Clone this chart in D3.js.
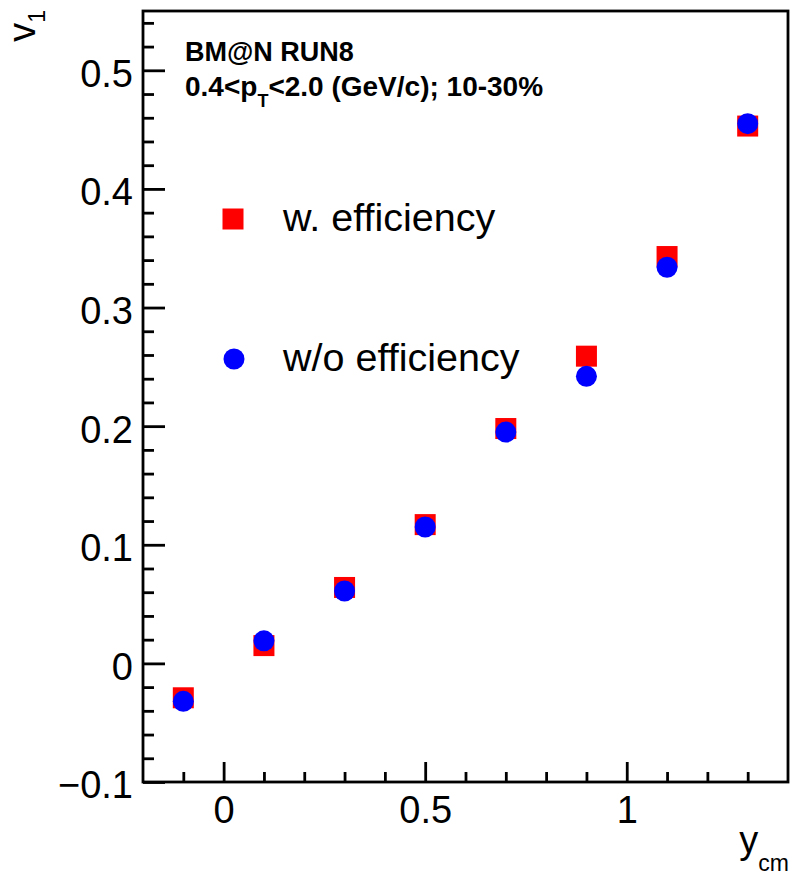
<!DOCTYPE html>
<html>
<head>
<meta charset="utf-8">
<script src="https://cdn.jsdelivr.net/npm/d3@7"></script>
<style>
  body { margin: 0; background: #fff; }
  svg { display: block; }
  text { font-family: "Liberation Sans", Arial, Helvetica, sans-serif; fill: #000; }
</style>
</head>
<body>
<svg id="chart" width="792" height="877"></svg>
<script>
// Directed flow v1 versus rapidity, with and without efficiency correction
const rapidity = [-0.1, 0.1, 0.3, 0.5, 0.7, 0.9, 1.1, 1.3];
const v1WithEff = [-0.029, 0.015, 0.064, 0.117, 0.198, 0.259, 0.343, 0.453];
const v1WithoutEff = [-0.032, 0.019, 0.061, 0.115, 0.195, 0.242, 0.334, 0.455];

const xTickValues = [0, 0.5, 1];
const xTickLabels = ["0", "0.5", "1"];
const xMinorValues = [-0.1, 0.1, 0.2, 0.3, 0.4, 0.6, 0.7, 0.8, 0.9, 1.1, 1.2, 1.3];
const yTickValues = [-0.1, 0, 0.1, 0.2, 0.3, 0.4, 0.5];
const yTickLabels = ["\u22120.1", "0", "0.1", "0.2", "0.3", "0.4", "0.5"];
const yMinorValues = [-0.08, -0.06, -0.04, -0.02, 0.02, 0.04, 0.06, 0.08,
  0.12, 0.14, 0.16, 0.18, 0.22, 0.24, 0.26, 0.28, 0.32, 0.34, 0.36, 0.38,
  0.42, 0.44, 0.46, 0.48, 0.52, 0.54];

const seriesNames = ["w. efficiency", "w/o efficiency"];
const seriesColors = ["#ff0000", "#0000ff"];

const svg = d3.select("#chart");
svg.append("rect").attr("width", 792).attr("height", 877).attr("fill", "#fff");

const frame = { left: 143, right: 788, top: 11, bottom: 782 };
const x = d3.scaleLinear().domain([-0.2, 1.4]).range([frame.left, frame.right]);
const y = d3.scaleLinear().domain([-0.1, 0.55]).range([frame.bottom, frame.top]);

const lw = 2.8;
const labelFont = 38;

// x axis: major ticks with labels, minor ticks without
svg.append("g").attr("transform", `translate(0,${frame.bottom})`)
  .call(d3.axisBottom(x).tickValues(xTickValues)
    .tickFormat((d, i) => xTickLabels[i]).tickSize(-20).tickSizeOuter(0).tickPadding(14));
svg.append("g").attr("transform", `translate(0,${frame.bottom})`)
  .call(d3.axisBottom(x).tickValues(xMinorValues).tickFormat("").tickSize(-10).tickSizeOuter(0));

// y axis
const yAxis = svg.append("g").attr("transform", `translate(${frame.left},0)`)
  .call(d3.axisLeft(y).tickValues(yTickValues)
    .tickFormat((d, i) => yTickLabels[i]).tickSize(-22).tickSizeOuter(0).tickPadding(10));
svg.append("g").attr("transform", `translate(${frame.left},0)`)
  .call(d3.axisLeft(y).tickValues(yMinorValues).tickFormat("").tickSize(-11).tickSizeOuter(0));

svg.selectAll(".domain").remove();
svg.selectAll(".tick line").attr("stroke", "#000").attr("stroke-width", lw);
svg.selectAll(".tick text").attr("font-size", labelFont).attr("font-family", null).attr("fill", "#000");
yAxis.selectAll(".tick text").attr("dy", "0.42em");

// frame
svg.append("rect")
  .attr("x", frame.left).attr("y", frame.top)
  .attr("width", frame.right - frame.left).attr("height", frame.bottom - frame.top)
  .attr("fill", "none").attr("stroke", "#000").attr("stroke-width", lw);

// axis titles
const yTitle = svg.append("text")
  .attr("transform", `translate(35,10) rotate(-90)`)
  .attr("text-anchor", "end").attr("font-size", labelFont);
yTitle.append("tspan").text("v");
yTitle.append("tspan").attr("font-size", 23).attr("dy", 10).text("1");

const xTitle = svg.append("text")
  .attr("x", 789).attr("y", 853)
  .attr("text-anchor", "end").attr("font-size", labelFont);
xTitle.append("tspan").text("y");
xTitle.append("tspan").attr("font-size", 23).attr("dy", 18).text("cm");

// header labels
svg.append("text").attr("x", 185).attr("y", 61)
  .attr("font-size", 27).attr("font-weight", "bold").text("BM@N RUN8");
const sub = svg.append("text").attr("x", 185).attr("y", 96)
  .attr("font-size", 28).attr("font-weight", "bold");
sub.append("tspan").text("0.4<p");
sub.append("tspan").attr("font-size", 18).attr("dy", 11).text("T");
sub.append("tspan").attr("dy", -11).text("<2.0 (GeV/c); 10-30%");

// data markers
const markerSize = 21;
const pts = rapidity.map((r, i) => ({ r, a: v1WithEff[i], b: v1WithoutEff[i] }));

svg.append("g").selectAll("rect").data(pts).join("rect")
  .attr("x", d => x(d.r) - markerSize / 2)
  .attr("y", d => y(d.a) - markerSize / 2)
  .attr("width", markerSize).attr("height", markerSize)
  .attr("fill", seriesColors[0]);

svg.append("g").selectAll("circle").data(pts).join("circle")
  .attr("cx", d => x(d.r))
  .attr("cy", d => y(d.b))
  .attr("r", markerSize / 2)
  .attr("fill", seriesColors[1]);

// legend
const legend = svg.append("g");
legend.append("rect")
  .attr("x", 233 - markerSize / 2).attr("y", 219 - markerSize / 2)
  .attr("width", markerSize).attr("height", markerSize).attr("fill", seriesColors[0]);
legend.append("text").attr("x", 283).attr("y", 231).attr("font-size", 39.5).text(seriesNames[0]);
legend.append("circle")
  .attr("cx", 234).attr("cy", 359).attr("r", markerSize / 2).attr("fill", seriesColors[1]);
legend.append("text").attr("x", 283).attr("y", 371).attr("font-size", 39.5).text(seriesNames[1]);
</script>
</body>
</html>
